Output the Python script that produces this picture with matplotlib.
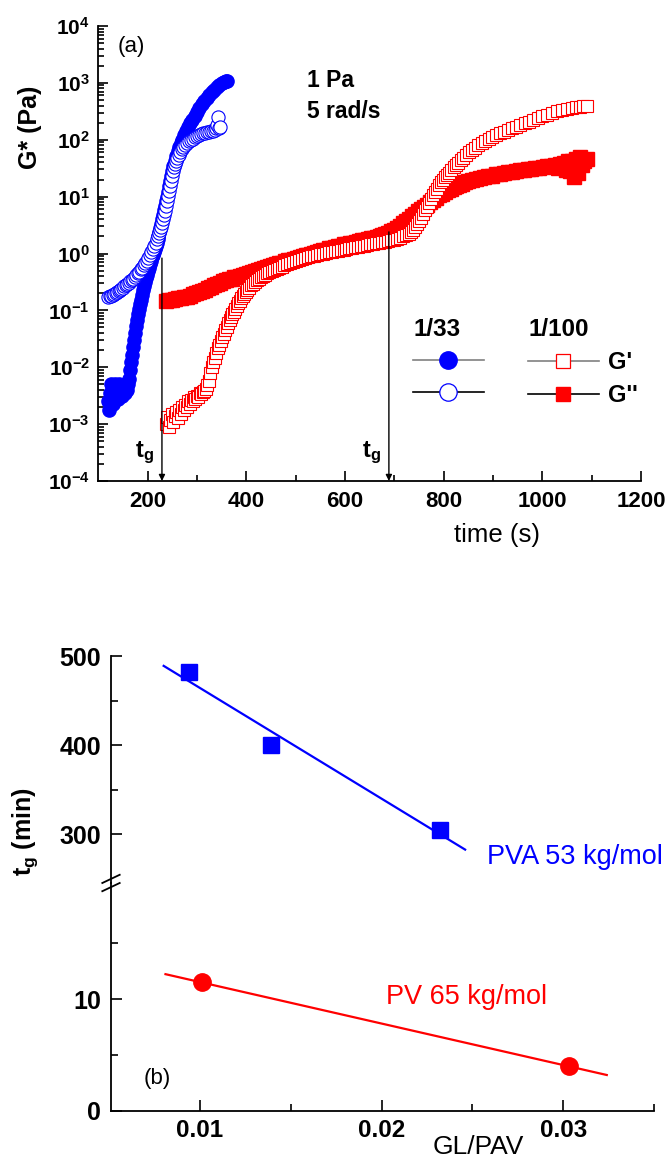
import numpy as np
import matplotlib.pyplot as plt
from matplotlib.lines import Line2D
from matplotlib.ticker import FixedLocator, LogLocator, NullFormatter, FuncFormatter

plt.rcParams['font.family'] = ['Liberation Sans', 'DejaVu Sans']
plt.rcParams['mathtext.fontset'] = 'custom'
plt.rcParams['mathtext.rm'] = 'Liberation Sans'
plt.rcParams['mathtext.bf'] = 'Liberation Sans:bold'
plt.rcParams['mathtext.it'] = 'Liberation Sans:italic'

# ---- (a) time sweeps at 1 Pa, 5 rad/s (log10 of modulus in Pa) ----
# GL/PVA 1/33, G'
t_33_gp = [120, 122, 124, 126, 128, 130, 132, 134, 136, 138, 140, 142, 144, 146,
           148, 150, 152, 154, 156, 158, 160, 162, 164, 166, 168, 170, 172, 174,
           176, 178, 180, 182, 184, 186, 188, 190, 192, 194, 196, 198, 200, 202,
           204, 206, 208, 210, 212, 214, 216, 218, 220, 222, 224, 226, 228, 230,
           232, 234, 236, 238, 240, 242, 244, 246, 248, 250, 252, 255, 258, 261,
           264, 267, 270, 274, 278, 282, 286, 290, 295, 300, 305, 310, 315, 320,
           325, 330, 335, 340, 345, 350, 354, 358, 361]
lg_33_gp = [-2.6, -2.75, -2.45, -2.3, -2.55, -2.65, -2.4, -2.3, -2.5, -2.35,
            -2.55, -2.3, -2.45, -2.35, -2.5, -2.4, -2.35, -2.45, -2.3, -2.4,
            -2.3, -2.2, -2.05, -1.9, -1.78, -1.65, -1.52, -1.4, -1.28, -1.17,
            -1.06, -0.97, -0.89, -0.81, -0.73, -0.65, -0.57, -0.5, -0.43, -0.37,
            -0.31, -0.25, -0.19, -0.13, -0.07, -0.02, 0.03, 0.08, 0.13, 0.19,
            0.25, 0.31, 0.38, 0.45, 0.52, 0.6, 0.68, 0.76, 0.84, 0.92, 1.0,
            1.09, 1.18, 1.27, 1.36, 1.45, 1.53, 1.63, 1.72, 1.8, 1.87, 1.94,
            2.0, 2.08, 2.15, 2.22, 2.29, 2.35, 2.42, 2.49, 2.56, 2.62, 2.68,
            2.74, 2.79, 2.84, 2.88, 2.92, 2.96, 2.99, 3.01, 3.03, 3.04]

# GL/PVA 1/33, G''
t_33_gpp = [120, 123, 126, 129, 132, 135, 138, 141, 144, 147, 150, 153, 156,
            159, 162, 165, 168, 171, 174, 177, 180, 183, 186, 189, 192, 195,
            198, 201, 204, 207, 210, 213, 216, 219, 222, 224, 226, 228, 230,
            232, 234, 236, 238, 240, 242, 244, 246, 248, 250, 252, 254, 256,
            258, 260, 263, 266, 269, 272, 276, 280, 284, 288, 292, 296, 300,
            304, 308, 312, 316, 320, 324, 328, 332, 336, 339, 341, 343, 345,
            347]
lg_33_gpp = [-0.76, -0.75, -0.74, -0.73, -0.71, -0.70, -0.68, -0.66, -0.64,
             -0.62, -0.60, -0.58, -0.56, -0.53, -0.51, -0.49, -0.46, -0.44,
             -0.41, -0.38, -0.35, -0.32, -0.28, -0.25, -0.21, -0.17, -0.13,
             -0.08, -0.03, 0.02, 0.08, 0.13, 0.19, 0.25, 0.31, 0.36, 0.41,
             0.47, 0.53, 0.6, 0.67, 0.75, 0.83, 0.92, 1.01, 1.1, 1.19, 1.28,
             1.37, 1.45, 1.52, 1.58, 1.63, 1.68, 1.74, 1.79, 1.83, 1.87, 1.91,
             1.94, 1.97, 2.0, 2.02, 2.04, 2.06, 2.08, 2.1, 2.11, 2.12, 2.13,
             2.14, 2.15, 2.16, 2.17, 2.2, 2.26, 2.4, 2.2, 2.22]

# GL/PVA 1/100, G'
t_100_gp = [237, 240, 243, 246, 249, 252, 255, 258, 261, 264, 267, 270, 273,
            276, 279, 282, 285, 288, 291, 294, 297, 300, 303, 306, 309, 312,
            315, 318, 321, 324, 327, 330, 333, 336, 339, 342, 345, 348, 351,
            354, 357, 360, 363, 366, 369, 372, 375, 378, 381, 384, 387, 390,
            393, 396, 399, 402, 406, 410, 414, 418, 422, 426, 430, 434, 438,
            442, 447, 452, 457, 462, 467, 472, 477, 483, 489, 495, 501, 507,
            513, 519, 525, 531, 537, 543, 549, 555, 561, 567, 573, 579, 585,
            591, 597, 603, 609, 615, 621, 627, 633, 639, 645, 651, 657, 663,
            669, 675, 681, 687, 693, 699, 705, 711, 717, 723, 729, 734, 738,
            742, 746, 750, 754, 758, 762, 766, 770, 774, 778, 782, 786, 790,
            794, 798, 802, 806, 810, 815, 820, 825, 830, 835, 840, 846, 852,
            858, 864, 870, 877, 884, 891, 898, 906, 914, 922, 930, 938, 946,
            955, 964, 973, 982, 991, 1000, 1010, 1020, 1030, 1040, 1050, 1060,
            1068, 1076, 1083, 1090]
lg_100_gp = [-3.0, -2.88, -3.05, -2.92, -2.82, -2.97, -2.85, -2.78, -2.9,
             -2.75, -2.82, -2.7, -2.76, -2.66, -2.7, -2.6, -2.64, -2.57, -2.6,
             -2.53, -2.56, -2.5, -2.52, -2.46, -2.47, -2.43, -2.42, -2.38,
             -2.32, -2.25,
             -2.1, -2.0, -1.91, -1.83, -1.75, -1.67, -1.6, -1.53, -1.47,
             -1.41, -1.35, -1.29, -1.23, -1.17, -1.12, -1.07, -1.02, -0.97,
             -0.92, -0.87, -0.83, -0.79, -0.75, -0.71, -0.68, -0.64,
             -0.6, -0.56, -0.53, -0.5, -0.47, -0.44, -0.42, -0.4, -0.37,
             -0.35, -0.33, -0.31, -0.29, -0.27, -0.25, -0.23, -0.21,
             -0.19, -0.17, -0.15, -0.13, -0.11, -0.1, -0.08, -0.07, -0.05,
             -0.04, -0.03, -0.01, 0.0, 0.01, 0.02, 0.03, 0.04, 0.05,
             0.06, 0.07, 0.08, 0.09, 0.1, 0.11, 0.12, 0.13, 0.14, 0.15, 0.16,
             0.17, 0.18, 0.19, 0.2, 0.21, 0.22, 0.23, 0.24, 0.26, 0.28, 0.3,
             0.32, 0.35, 0.38,
             0.42, 0.47, 0.52, 0.57, 0.63, 0.69, 0.76, 0.82, 0.89, 0.96,
             1.02, 1.08, 1.14, 1.2, 1.25, 1.3, 1.34, 1.38, 1.42, 1.47, 1.52,
             1.56, 1.6, 1.64, 1.68, 1.73, 1.78, 1.82, 1.86, 1.9, 1.94, 1.98,
             2.02, 2.05, 2.08, 2.11, 2.14, 2.17, 2.2, 2.23, 2.26, 2.29, 2.32,
             2.35, 2.38, 2.41, 2.44, 2.47, 2.5, 2.52, 2.54, 2.56, 2.57, 2.58,
             2.59, 2.6]

# GL/PVA 1/100, G''
t_100_gpp = [237, 244, 250, 256, 262, 268, 274, 280, 286, 292, 298, 304, 310,
             316, 322, 328, 334, 340, 346, 352, 358, 364, 370, 376, 382, 388,
             394, 400, 406, 412, 418, 424, 430, 436, 442, 448, 454, 460, 466,
             472, 478, 484, 490, 496, 502, 508, 514, 520, 526, 532, 538, 544,
             550, 556, 562, 568, 574, 580, 586, 592, 598, 604, 610, 616, 622,
             628, 634, 640, 646, 652, 658, 664, 670, 676, 682, 688, 694, 700,
             706, 712, 718, 724, 730, 736, 742, 748, 754, 760, 766, 772, 778,
             784, 790, 796, 802, 808, 814, 820, 826, 832, 838, 844, 850, 858,
             866, 874, 882, 890, 898, 906, 914, 922, 930, 938, 946, 954, 962,
             970, 978, 986, 994, 1002, 1010, 1018, 1026, 1032, 1036, 1040,
             1044, 1048, 1052, 1056, 1060, 1064, 1068, 1072, 1076, 1080, 1085,
             1090]
lg_100_gpp = [-0.83, -0.82, -0.81, -0.80, -0.79, -0.78, -0.77, -0.76, -0.74,
              -0.72, -0.70, -0.68, -0.66, -0.64, -0.61, -0.59, -0.56, -0.53,
              -0.51, -0.49, -0.47, -0.45, -0.44, -0.42, -0.41, -0.39, -0.37,
              -0.36, -0.34, -0.32, -0.30, -0.29, -0.27, -0.25, -0.24, -0.22,
              -0.20, -0.19, -0.17, -0.16, -0.14, -0.12, -0.11, -0.09, -0.08,
              -0.06, -0.05, -0.03, -0.02, 0.0, 0.01, 0.03, 0.04, 0.06, 0.07,
              0.09, 0.10, 0.12, 0.13, 0.14, 0.16, 0.17, 0.18, 0.19, 0.21, 0.22,
              0.23, 0.24, 0.25, 0.27, 0.28, 0.29, 0.31, 0.32, 0.34, 0.36, 0.39,
              0.42, 0.45, 0.49, 0.53, 0.57, 0.61, 0.66, 0.70, 0.74, 0.78, 0.82,
              0.86, 0.90, 0.94, 0.98, 1.02, 1.05, 1.08, 1.11, 1.14, 1.17, 1.19,
              1.21, 1.23, 1.25, 1.27, 1.29, 1.31, 1.33, 1.35, 1.36, 1.37, 1.39,
              1.40, 1.41, 1.43, 1.44, 1.45, 1.46, 1.47, 1.48, 1.49, 1.50, 1.51,
              1.52, 1.53, 1.54, 1.55, 1.50, 1.58, 1.52, 1.60, 1.47, 1.62, 1.45,
              1.63, 1.35, 1.66, 1.42, 1.70, 1.55, 1.62, 1.66]

# gel times marked with arrows: (time, top of arrow in Pa)
tg_times = [229, 689]
tg_tops = [0.83, 2.4]

# ---- (b) gel time vs GL/PAV ----
gl_pva = [0.0094, 0.0139, 0.0232]
tg_pva = [482, 400, 305]
gl_pv = [0.0101, 0.0303]
tg_pv = [11.5, 4.0]

W, H = 669, 1160
fig = plt.figure(figsize=(W / 100, H / 100), dpi=100)


def px_axes(left, top, right, bottom):
    return fig.add_axes([left / W, 1 - bottom / H, (right - left) / W, (bottom - top) / H])


BLUE = '#0000ff'
RED = '#ff0000'

# ---------------- panel (a) ----------------
ax = px_axes(98.3, 26, 641, 481)
ax.plot(t_33_gp, 10 ** np.array(lg_33_gp), 'o', ms=9.5, color=BLUE, mec=BLUE, ls='none')
ax.plot(t_33_gpp, 10 ** np.array(lg_33_gpp), 'o', ms=9.5, mfc='white', mec=BLUE, mew=0.8, ls='none')
ax.plot(t_100_gpp, 10 ** np.array(lg_100_gpp), 's', ms=10, color=RED, mec=RED, ls='none')
ax.plot(t_100_gp, 10 ** np.array(lg_100_gp), 's', ms=9, mfc='white', mec=RED, mew=0.8, ls='none')

ax.set_yscale('log')
ax.set_xlim(100, 1200)
ax.set_ylim(1e-4, 1e4)
ax.spines['top'].set_visible(False)
ax.spines['right'].set_visible(False)
for s in ('left', 'bottom'):
    ax.spines[s].set_linewidth(1.3)

ax.xaxis.set_major_locator(FixedLocator([200, 400, 600, 800, 1000, 1200]))
ax.xaxis.set_minor_locator(FixedLocator([300, 500, 700, 900, 1100]))
ax.yaxis.set_major_locator(LogLocator(base=10, numticks=20))
ax.yaxis.set_minor_locator(LogLocator(base=10, subs=np.arange(2, 10), numticks=20))
ax.yaxis.set_minor_formatter(NullFormatter())
ax.yaxis.set_major_formatter(FuncFormatter(lambda v, p: r'$\mathbf{10^{%d}}$' % round(np.log10(v))))
ax.tick_params(which='both', direction='in', width=1.2)
ax.tick_params(which='major', length=7)
ax.tick_params(which='minor', length=4)
ax.tick_params(axis='y', labelsize=15, pad=6)
ax.tick_params(axis='x', labelsize=16, pad=7)
for lab in ax.get_xticklabels():
    lab.set_fontweight('bold')

for tx, top in zip(tg_times, tg_tops):
    ax.annotate('', xy=(tx, 1e-4), xytext=(tx, top),
                arrowprops=dict(arrowstyle='-|>', color='black', lw=1.0,
                                mutation_scale=9, shrinkA=0, shrinkB=0))
    ax.annotate(r'$\mathbf{t_g}$', xy=(tx, 10 ** -3.5), xytext=(-6, 0),
                textcoords='offset points', ha='right', va='center', fontsize=17)

ax.text(0.036, 0.954, '(a)', transform=ax.transAxes, fontsize=16, va='center')
ax.text(0.385, 0.881, '1 Pa', transform=ax.transAxes, fontsize=16.5,
        fontweight='bold', va='center')
ax.text(0.385, 0.811, '5 rad/s', transform=ax.transAxes, fontsize=16.5,
        fontweight='bold', va='center')

fig.text(30 / W, 1 - 127 / H, 'G* (Pa)', rotation=90, fontsize=18,
         fontweight='bold', ha='center', va='center')
fig.text(497 / W, 1 - 535 / H, 'time (s)', fontsize=18.5, ha='center', va='center')

# legend: two groups, G' row and G'' row
h33 = [Line2D([], [], color='#808080', lw=1.2, marker='o', ms=12.5, mfc=BLUE, mec=BLUE),
       Line2D([], [], color='black', lw=1.2, marker='o', ms=12.5, mfc='white', mec=BLUE, mew=0.9)]
h100 = [Line2D([], [], color='#808080', lw=1.2, marker='s', ms=10.5, mfc='white', mec=RED, mew=0.9),
        Line2D([], [], color='black', lw=1.2, marker='s', ms=10.5, mfc=RED, mec=RED)]
leg_kw = dict(frameon=False, fontsize=17, handlelength=3.0, borderpad=0,
              borderaxespad=0, labelspacing=0.42, alignment='left',
              bbox_transform=fig.transFigure, loc='upper left',
              title_fontproperties={'weight': 'bold', 'size': 17.5})
leg1 = ax.legend(h33, ['', ''], title='1/33', handletextpad=0,
                 bbox_to_anchor=(413 / W, 1 - 318 / H), **leg_kw)
ax.add_artist(leg1)
leg2 = ax.legend(h100, ["G'", "G''"], title='1/100', handletextpad=0.4,
                 bbox_to_anchor=(528 / W, 1 - 318 / H), **leg_kw)
for txt in leg2.get_texts():
    txt.set_fontweight('bold')

# ---------------- panel (b) ----------------
axt = px_axes(111, 656, 654, 883)
axb = px_axes(111, 883, 654, 1111)

fit_pva = np.polyfit(gl_pva, tg_pva, 1)
fit_pv = np.polyfit(gl_pv, tg_pv, 1)
xs_pva = np.array([0.0080, 0.0246])
xs_pv = np.array([0.0081, 0.0324])
axt.plot(xs_pva, np.polyval(fit_pva, xs_pva), color=BLUE, lw=1.6)
axt.plot(gl_pva, tg_pva, 's', color=BLUE, ms=11)
axb.plot(xs_pv, np.polyval(fit_pv, xs_pv), color=RED, lw=1.6)
axb.plot(gl_pv, tg_pv, 'o', color=RED, ms=12.5)

for a in (axt, axb):
    a.set_xlim(0.0051, 0.035)
    a.spines['top'].set_visible(False)
    a.spines['right'].set_visible(False)
    a.spines['left'].set_linewidth(1.3)
    a.spines['bottom'].set_linewidth(1.3)
    a.tick_params(which='both', direction='in', width=1.2)
    a.tick_params(which='major', length=8)
    a.tick_params(which='minor', length=5)
    a.tick_params(axis='y', labelsize=18, pad=7)
    a.patch.set_alpha(0)

axt.spines['bottom'].set_visible(False)
axt.tick_params(axis='x', which='both', bottom=False, labelbottom=False)
axt.set_ylim(245, 500)
axt.yaxis.set_major_locator(FixedLocator([300, 400, 500]))
axt.yaxis.set_minor_locator(FixedLocator([350, 450]))
axb.set_ylim(0, 20.4)
axb.yaxis.set_major_locator(FixedLocator([0, 10]))
axb.yaxis.set_minor_locator(FixedLocator([5, 15]))
axb.xaxis.set_major_locator(FixedLocator([0.01, 0.02, 0.03]))
axb.xaxis.set_minor_locator(FixedLocator([0.015, 0.025, 0.035]))
axb.tick_params(axis='x', labelsize=17.5, pad=6)
axb.xaxis.set_major_formatter(FuncFormatter(lambda v, p: '%.2f' % v))
for a in (axt, axb):
    for lab in a.get_xticklabels() + a.get_yticklabels():
        lab.set_fontweight('bold')

# axis break marks on the left spine
for dy in (-0.018, 0.018):
    axb.plot([-0.016, 0.016], [1 + dy - 0.018, 1 + dy + 0.018], color='black',
             lw=1.3, transform=axb.transAxes, clip_on=False)

axt.text(0.02578, 274, 'PVA 53 kg/mol', color=BLUE, fontsize=19.5, va='center')
axb.text(0.02025, 10.2, 'PV 65 kg/mol', color=RED, fontsize=19.5, va='center')
axb.text(0.00688, 2.95, '(b)', fontsize=16, va='center')

fig.text(25 / W, 1 - 832 / H, r'$\mathbf{t_g}$ (min)', rotation=90, fontsize=18,
         fontweight='bold', ha='center', va='center')
fig.text(433 / W, 1 - 1147 / H, 'GL/PAV', fontsize=19, va='center')

fig.savefig('out.png', dpi=100)
